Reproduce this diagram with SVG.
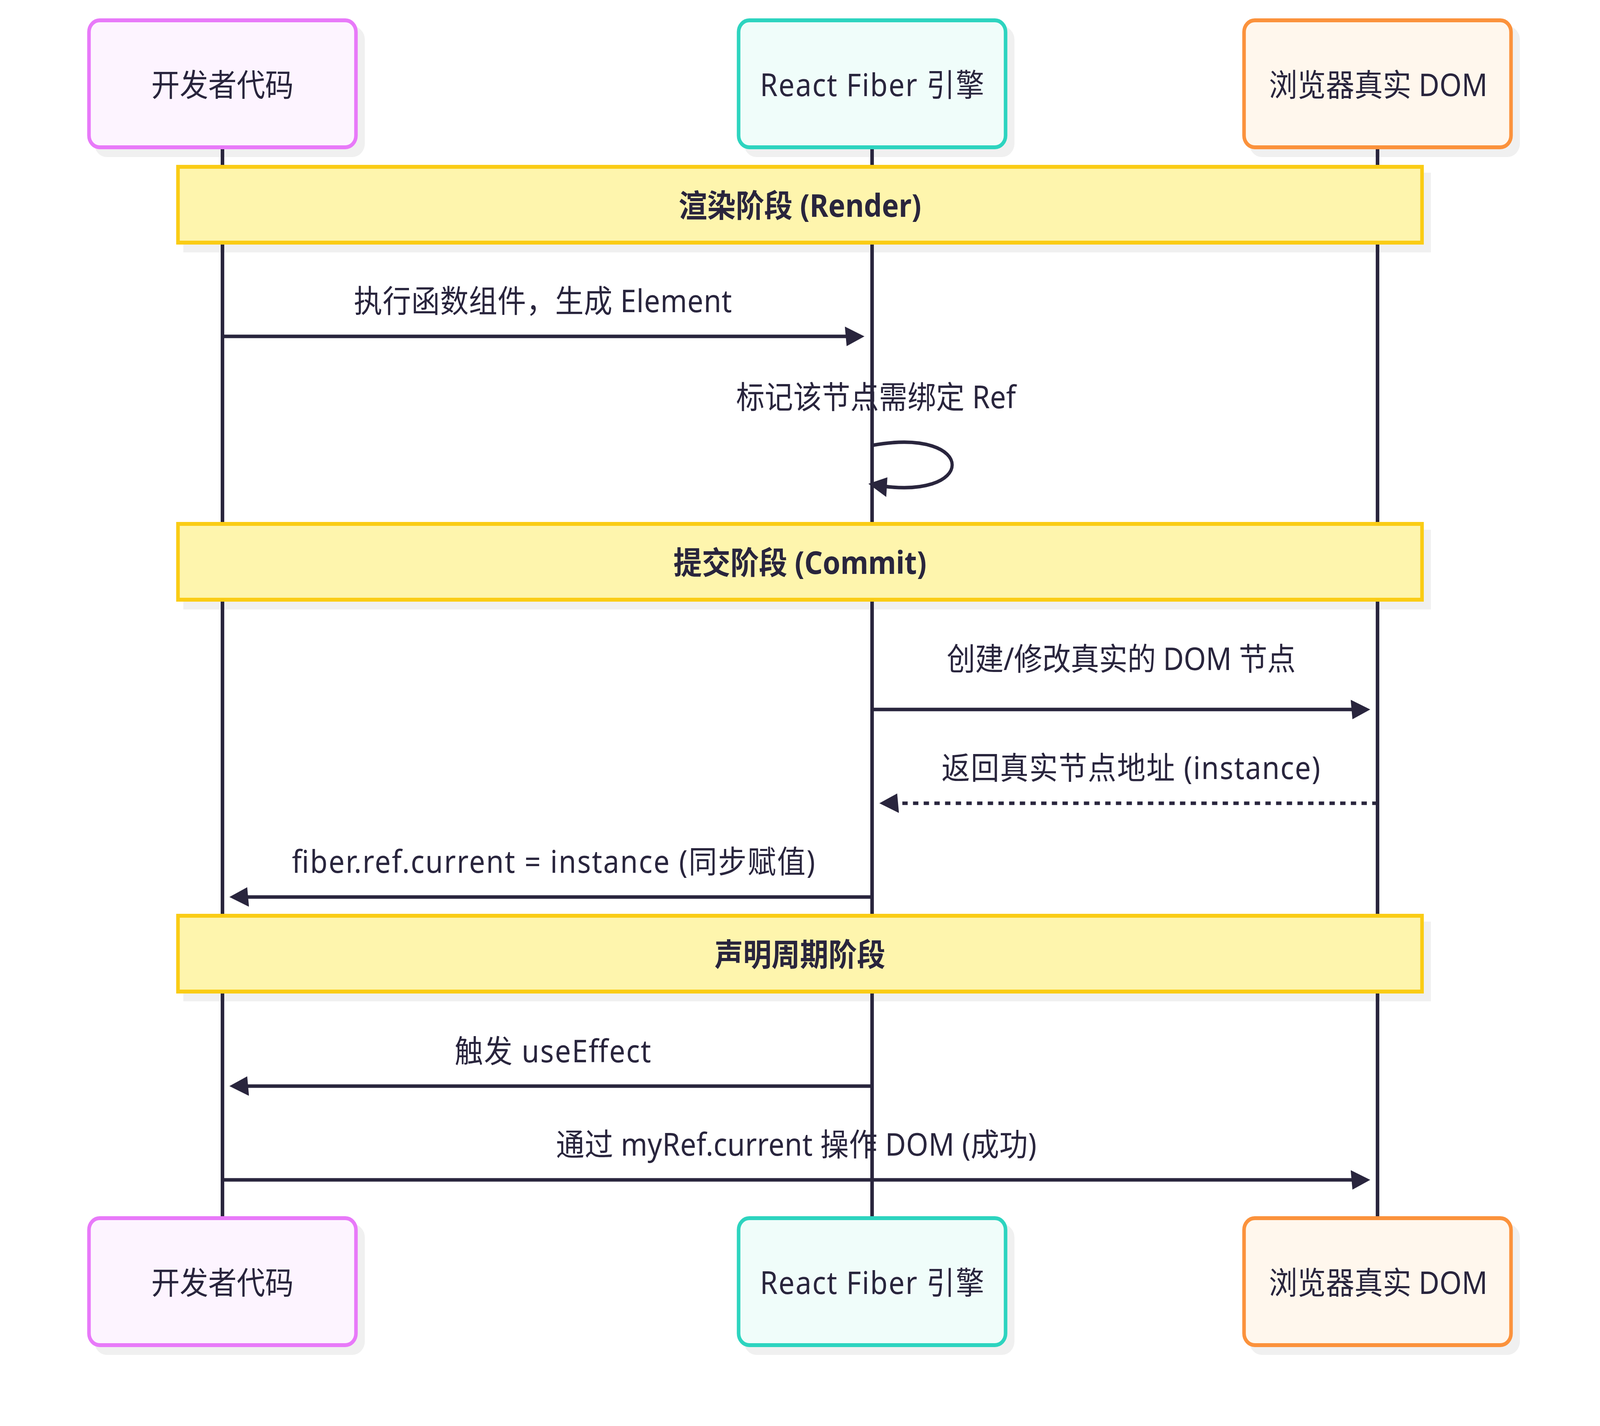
<svg xmlns="http://www.w3.org/2000/svg" width="4495" height="3650" viewBox="0 0 4495 3650" preserveAspectRatio="none">
<style>
:root{width:100vw;height:100vh}
.bg{fill:#ffffff}
.shadow{fill:#f0f0f0;stroke:#f0f0f0;stroke-width:10}
.life{stroke:#29253d;stroke-width:10;fill:none}
.actor{stroke-width:10}
.a1{fill:#fdf4ff;stroke:#e879f9}
.a2{fill:#f0fdfa;stroke:#2dd4bf}
.a3{fill:#fff7ed;stroke:#fb923c}
.note{fill:#fef5ad;stroke:#facc15;stroke-width:10}
.t{font-family:"Noto Sans","Noto Sans CJK SC",sans-serif;font-size:80px;fill:#29253d;text-anchor:middle}
.tc{dominant-baseline:central}
.b{font-weight:bold}
.msg{stroke:#29253d;stroke-width:9;fill:none}
.dot{stroke-dasharray:15,15}
</style>
<defs>
<marker id="arr" viewBox="-1 0 11 10" refX="7.9" refY="5" markerUnits="userSpaceOnUse" markerWidth="55" markerHeight="50" orient="auto">
<path d="M -1 0 L 10 5 L 0 10 z" fill="#29253d"/>
</marker>
</defs>
<rect class="bg" x="0" y="0" width="4495" height="3650"/>
<g id="shadows">
<rect class="shadow" x="270" y="72" width="750" height="325" rx="30"/>
<rect class="shadow" x="2095" y="72" width="750" height="325" rx="30"/>
<rect class="shadow" x="3515" y="72" width="750" height="325" rx="30"/>
<rect class="shadow" x="270" y="3138" width="750" height="325" rx="30"/>
<rect class="shadow" x="2095" y="3138" width="750" height="325" rx="30"/>
<rect class="shadow" x="3515" y="3138" width="750" height="325" rx="30"/>
<rect class="shadow" x="520" y="447" width="3495" height="194"/>
<rect class="shadow" x="520" y="1361" width="3495" height="194"/>
<rect class="shadow" x="520" y="2364" width="3495" height="194"/>
</g>
<g id="lifelines">
<line class="life" x1="625" y1="377" x2="625" y2="3118"/>
<line class="life" x1="2450" y1="377" x2="2450" y2="3118"/>
<line class="life" x1="3870" y1="377" x2="3870" y2="3118"/>
</g>
<g id="actor-dev-top">
<rect class="actor a1" x="250" y="52" width="750" height="325" rx="30"/>
<text class="t tc" x="625" y="214.5">开发者代码</text>
</g>
<g id="actor-fiber-top">
<rect class="actor a2" x="2075" y="52" width="750" height="325" rx="30"/>
<text class="t tc" x="2450" y="214.5" textLength="630" lengthAdjust="spacing">React Fiber 引擎</text>
</g>
<g id="actor-dom-top">
<rect class="actor a3" x="3495" y="52" width="750" height="325" rx="30"/>
<text class="t tc" x="3872" y="214.5">浏览器真实 DOM</text>
</g>
<g id="actor-dev-bottom">
<rect class="actor a1" x="250" y="3118" width="750" height="325" rx="30"/>
<text class="t tc" x="625" y="3280.5">开发者代码</text>
</g>
<g id="actor-fiber-bottom">
<rect class="actor a2" x="2075" y="3118" width="750" height="325" rx="30"/>
<text class="t tc" x="2450" y="3280.5" textLength="630" lengthAdjust="spacing">React Fiber 引擎</text>
</g>
<g id="actor-dom-bottom">
<rect class="actor a3" x="3495" y="3118" width="750" height="325" rx="30"/>
<text class="t tc" x="3872" y="3280.5">浏览器真实 DOM</text>
</g>
<g id="note-render">
<rect class="note" x="500" y="427" width="3495" height="194"/>
<text class="t tc b" x="2247.5" y="524">渲染阶段 (Render)</text>
</g>
<g id="note-commit">
<rect class="note" x="500" y="1341" width="3495" height="194"/>
<text class="t tc b" x="2247.5" y="1438">提交阶段 (Commit)</text>
</g>
<g id="note-lifecycle">
<rect class="note" x="500" y="2344" width="3495" height="194"/>
<text class="t tc b" x="2247.5" y="2441">声明周期阶段</text>
</g>
<g id="connectors">
<line class="msg" x1="625" y1="861" x2="2418" y2="861" marker-end="url(#arr)"/>
<text class="t" x="1525" y="799" textLength="1062" lengthAdjust="spacing">执行函数组件，生成 Element</text>
<path class="msg" d="M 2450,1140 C 2750,1090 2750,1290 2450,1240" marker-end="url(#arr)"/>
<text class="t" x="2461" y="1045" textLength="786" lengthAdjust="spacing">标记该节点需绑定 Ref</text>
<line class="msg" x1="2450" y1="1816" x2="3839" y2="1816" marker-end="url(#arr)"/>
<text class="t" x="3150" y="1715" textLength="980" lengthAdjust="spacing">创建/修改真实的 DOM 节点</text>
<line class="msg dot" x1="3870" y1="2056" x2="2481" y2="2056" marker-end="url(#arr)"/>
<text class="t" x="3177" y="1994" textLength="1064" lengthAdjust="spacing">返回真实节点地址 (instance)</text>
<line class="msg" x1="2450" y1="2296" x2="655" y2="2296" marker-end="url(#arr)"/>
<text class="t" x="1555" y="2234" textLength="1470" lengthAdjust="spacing">fiber.ref.current = instance (同步赋值)</text>
<line class="msg" x1="2450" y1="2780" x2="655" y2="2780" marker-end="url(#arr)"/>
<text class="t" x="1553" y="2719" textLength="552" lengthAdjust="spacing">触发 useEffect</text>
<line class="msg" x1="625" y1="3020" x2="3839" y2="3020" marker-end="url(#arr)"/>
<text class="t" x="2237" y="2958" textLength="1350" lengthAdjust="spacing">通过 myRef.current 操作 DOM (成功)</text>
</g>
</svg>
